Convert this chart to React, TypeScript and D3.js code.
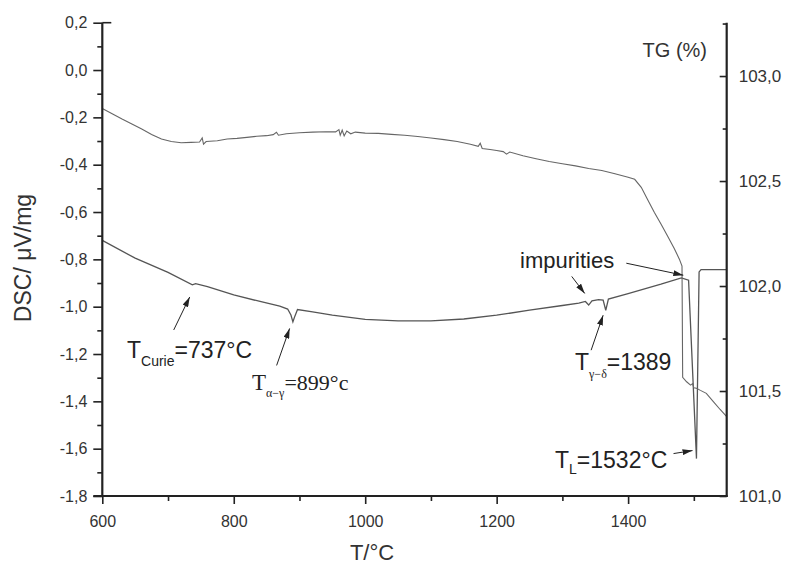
import React, { useRef, useEffect } from 'react';
import * as d3 from 'd3';

// DSC curve (left axis, µV/mg)
const dscTemp = [600, 650, 700, 737, 742, 760, 800, 840, 870, 882, 887, 890, 893, 897, 920, 950, 1000, 1050, 1100, 1150, 1200, 1250, 1300, 1325, 1335, 1340, 1345, 1355, 1362, 1366, 1370, 1400, 1450, 1481, 1492, 1504, 1508, 1511, 1550];
const dscValue = [-0.72, -0.795, -0.855, -0.908, -0.903, -0.915, -0.95, -0.978, -0.998, -1.01, -1.035, -1.064, -1.04, -1.012, -1.022, -1.036, -1.054, -1.06, -1.06, -1.052, -1.036, -1.015, -0.995, -0.985, -0.978, -0.993, -0.975, -0.97, -0.972, -1.015, -0.968, -0.945, -0.905, -0.878, -0.888, -1.642, -0.853, -0.843, -0.843];

// TG curve (right axis, %)
const tgTemp = [600, 615, 630, 645, 660, 675, 690, 705, 720, 735, 748, 752, 754, 758, 775, 790, 805, 820, 835, 850, 860, 865, 868, 880, 900, 920, 940, 955, 960, 962, 965, 968, 972, 978, 985, 1000, 1020, 1040, 1060, 1080, 1100, 1120, 1140, 1160, 1172, 1175, 1178, 1190, 1200, 1210, 1215, 1220, 1240, 1260, 1280, 1300, 1320, 1340, 1360, 1380, 1400, 1410, 1420, 1430, 1440, 1450, 1460, 1470, 1478, 1482, 1483, 1489, 1495, 1498, 1500, 1504, 1510, 1519, 1530, 1540, 1550];
const tgValue = [102.845, 102.82, 102.795, 102.772, 102.748, 102.722, 102.7, 102.688, 102.682, 102.684, 102.686, 102.705, 102.676, 102.688, 102.692, 102.7, 102.703, 102.708, 102.713, 102.716, 102.721, 102.732, 102.718, 102.725, 102.73, 102.733, 102.735, 102.734, 102.745, 102.718, 102.742, 102.715, 102.738, 102.725, 102.733, 102.728, 102.727, 102.722, 102.718, 102.712, 102.705, 102.697, 102.688, 102.675, 102.665, 102.68, 102.655, 102.65, 102.645, 102.64, 102.628, 102.638, 102.62, 102.606, 102.593, 102.582, 102.572, 102.56, 102.55, 102.535, 102.518, 102.508, 102.47, 102.41, 102.35, 102.295, 102.238, 102.18, 102.128, 102.095, 101.565, 101.544, 101.528, 101.535, 101.515, 101.513, 101.503, 101.489, 101.448, 101.412, 101.378];

const tempTicks = [600, 800, 1000, 1200, 1400];
const tempMinor = [700, 900, 1100, 1300, 1500];
const dscTicks = [0.2, 0.0, -0.2, -0.4, -0.6, -0.8, -1.0, -1.2, -1.4, -1.6, -1.8];
const dscMinor = [0.1, -0.1, -0.3, -0.5, -0.7, -0.9, -1.1, -1.3, -1.5, -1.7];
const tgTicks = [101.0, 101.5, 102.0, 102.5, 103.0];
const tgMinor = [101.25, 101.75, 102.25, 102.75, 103.25];

const W = 786;
const H = 566;
const SANS = '"Liberation Sans", Arial, sans-serif';
const SERIF = '"Liberation Serif", "Times New Roman", serif';

const comma = (d: number) => d.toFixed(1).replace('.', ',');

const App = () => {
  const svgRef = useRef<SVGSVGElement | null>(null);

  useEffect(() => {
    const svg = d3.select(svgRef.current);
    svg.selectAll('*').remove();

    const left = 102.3;
    const right = 726.7;
    const top = 22.7;
    const bottom = 496;

    const x = d3.scaleLinear().domain([600, 1550]).range([left, right]);
    const y = d3.scaleLinear().domain([-1.8, 0.2]).range([bottom, top]);
    const y2 = d3.scaleLinear().domain([101.0, 103.254]).range([bottom, top]);

    const ink = '#222';

    svg.append('defs').append('marker')
      .attr('id', 'head')
      .attr('viewBox', '0 0 10 6')
      .attr('refX', 10)
      .attr('refY', 3)
      .attr('markerWidth', 10)
      .attr('markerHeight', 6)
      .attr('markerUnits', 'userSpaceOnUse')
      .attr('orient', 'auto')
      .append('path')
      .attr('d', 'M0,0 L10,3 L0,6 Z')
      .attr('fill', ink);

    // curves
    const dscLine = d3.line<number>()
      .x((d, i) => x(dscTemp[i]))
      .y((d) => y(d));
    svg.append('path')
      .attr('d', dscLine(dscValue))
      .attr('fill', 'none')
      .attr('stroke', '#555')
      .attr('stroke-width', 1.3);

    const tgLine = d3.line<number>()
      .x((d, i) => x(tgTemp[i]))
      .y((d) => y2(d));
    svg.append('path')
      .attr('d', tgLine(tgValue))
      .attr('fill', 'none')
      .attr('stroke', '#666')
      .attr('stroke-width', 1.1);

    const style = (g: any, size: number) => {
      g.attr('font-size', size).attr('font-family', SANS);
      g.selectAll('line').attr('stroke', ink).attr('stroke-width', 1.6);
      g.selectAll('text').attr('fill', '#333');
      g.select('.domain').remove();
    };

    // left axis
    const gL = svg.append('g').attr('transform', `translate(${left},0)`);
    gL.call(d3.axisLeft(y).tickValues(dscTicks).tickSize(9).tickPadding(6).tickFormat(comma as any));
    style(gL, 16);
    const gLm = svg.append('g').attr('transform', `translate(${left},0)`);
    gLm.call(d3.axisLeft(y).tickValues(dscMinor).tickSize(5).tickFormat(() => ''));
    style(gLm, 16);

    // right axis (ticks inward)
    const gR = svg.append('g').attr('transform', `translate(${right},0)`);
    gR.call(d3.axisRight(y2).tickValues(tgTicks).tickSizeInner(-7).tickSizeOuter(0).tickPadding(12).tickFormat(comma as any));
    style(gR, 17);
    const gRm = svg.append('g').attr('transform', `translate(${right},0)`);
    gRm.call(d3.axisRight(y2).tickValues(tgMinor).tickSizeInner(-4).tickSizeOuter(0).tickFormat(() => ''));
    style(gRm, 17);

    // bottom axis
    const gB = svg.append('g').attr('transform', `translate(0,${bottom})`);
    gB.call(d3.axisBottom(x).tickValues(tempTicks).tickSize(8).tickPadding(12).tickFormat(d3.format('d') as any));
    style(gB, 16);
    const gBm = svg.append('g').attr('transform', `translate(0,${bottom})`);
    gBm.call(d3.axisBottom(x).tickValues(tempMinor).tickSize(5).tickFormat(() => ''));
    style(gBm, 16);

    // axis lines
    svg.append('line').attr('x1', left).attr('x2', left).attr('y1', top).attr('y2', bottom + 1)
      .attr('stroke', ink).attr('stroke-width', 2.2);
    svg.append('line').attr('x1', right).attr('x2', right).attr('y1', top).attr('y2', bottom + 1)
      .attr('stroke', ink).attr('stroke-width', 2.2);
    svg.append('line').attr('x1', left - 9).attr('x2', right + 1).attr('y1', bottom).attr('y2', bottom)
      .attr('stroke', ink).attr('stroke-width', 1.8);
    svg.append('line').attr('x1', left).attr('x2', left + 9).attr('y1', top).attr('y2', top)
      .attr('stroke', ink).attr('stroke-width', 1.6);

    // axis titles
    svg.append('text')
      .attr('transform', `translate(31,258) rotate(-90)`)
      .attr('text-anchor', 'middle')
      .attr('font-family', SANS)
      .attr('font-size', 23)
      .attr('fill', '#333')
      .text('DSC/ μV/mg');
    svg.append('text')
      .attr('x', 372).attr('y', 560)
      .attr('text-anchor', 'middle')
      .attr('font-family', SANS)
      .attr('font-size', 22)
      .attr('fill', '#333')
      .text('T/°C');
    svg.append('text')
      .attr('x', 707).attr('y', 57)
      .attr('text-anchor', 'end')
      .attr('font-family', SANS)
      .attr('font-size', 20)
      .attr('fill', '#333')
      .text('TG (%)');

    // arrows: tip in data units, tail as pixel offset
    const arrows = [
      { t: 733, v: -0.959, dx: -16, dy: 33 },
      { t: 885, v: -1.092, dx: -13, dy: 37 },
      { t: 1362, v: -1.036, dx: -12, dy: 35 },
      { t: 1484, v: -0.867, dx: -57, dy: -12 },
      { t: 1334, v: -0.944, dx: -13, dy: -17 },
      { t: 1498, v: -1.608, dx: -19, dy: 3 },
    ];
    arrows.forEach((a) => {
      const tx = x(a.t);
      const ty = y(a.v);
      svg.append('line')
        .attr('x1', tx + a.dx).attr('y1', ty + a.dy)
        .attr('x2', tx).attr('y2', ty)
        .attr('stroke', ink).attr('stroke-width', 1)
        .attr('marker-end', 'url(#head)');
    });

    // labels
    const label = (xp: number, yp: number, family: string, parts: [string, number, number, string?][]) => {
      const t = svg.append('text')
        .attr('x', xp).attr('y', yp)
        .attr('font-family', family)
        .attr('fill', '#222');
      parts.forEach(([s, size, dy, fam]) => {
        const ts = t.append('tspan').attr('font-size', size).attr('dy', dy).text(s);
        if (fam) ts.attr('font-family', fam);
      });
    };
    label(127, 358, SANS, [['T', 23, 0], ['Curie', 14, 8], ['=737°C', 23, -8]]);
    label(252, 390, SERIF, [['T', 23, 0], ['α−γ', 12, 7], ['=899°c', 22, -7]]);
    label(575, 370, SANS, [['T', 23, 0], ['γ−δ', 12, 8, SERIF], ['=1389', 23, -8]]);
    label(520, 268, SANS, [['impurities', 22, 0]]);
    label(555, 468, SANS, [['T', 23, 0], ['L', 14, 6], ['=1532°C', 23, -6]]);
  }, []);

  return (
    <svg
      ref={svgRef}
      width={W}
      height={H}
      style={{ position: 'absolute', left: 0, top: 0, background: '#fff' }}
    />
  );
};

export default App;
